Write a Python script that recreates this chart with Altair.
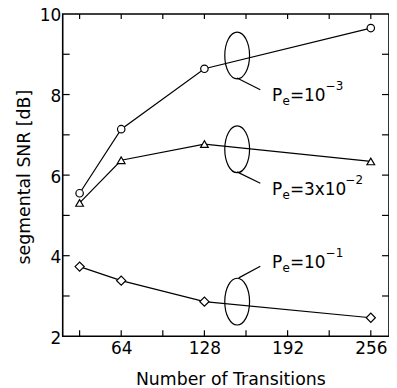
import altair as alt
import pandas as pd

# ---- data ----
transitions = [32, 64, 128, 256]
snr_pe_1e3 = [5.55, 7.14, 8.64, 9.65]
snr_pe_3e2 = [5.31, 6.37, 6.77, 6.34]
snr_pe_1e1 = [3.73, 3.38, 2.86, 2.46]

x_tick_values = [32, 64, 96, 128, 160, 192, 224, 256]
x_label_values = [64, 128, 192, 256]
y_tick_values = [3, 4, 5, 6, 7, 8, 9]
y_label_values = [2, 4, 6, 8, 10]

# annotation (ellipse / leader / label) positions in data units
ell_x = [153.2, 153.2, 153.2]
ell_y = [8.97, 6.64, 2.86]
lead_x1 = [153.1, 153.1, 154.4]
lead_x2 = [171.0, 171.0, 171.0]
lead_y1 = [8.41, 6.08, 3.45]
lead_y2 = [8.12, 5.80, 3.74]
lab_x = [180.0, 180.0, 180.0]
lab_y = [7.83, 5.50, 3.69]
lab_main = ["=10", "=3x10", "=10"]
lab_sup = ["\u22123", "\u22122", "\u22121"]
lab_sup_dx = [54, 74, 54]

FONT = "DejaVu Sans"
W, H = 328, 324

xs = alt.Scale(domain=[19, 270], nice=False, zero=False)
ys = alt.Scale(domain=[2, 10], nice=False, zero=False)

xaxis = alt.Axis(values=x_label_values, format="d", ticks=False, domain=False, grid=False,
                 labelFont=FONT, labelFontSize=17, labelColor="black", labelPadding=4,
                 title="Number of Transitions", titleFont=FONT, titleFontSize=17.4,
                 titleFontWeight="normal", titleColor="black", titleX=168.5, titleY=48,
                 titleAlign="center", titleBaseline="alphabetic")
yaxis = alt.Axis(values=y_label_values, format="d", ticks=False, domain=False, grid=False,
                 labelFont=FONT, labelFontSize=17, labelColor="black", labelPadding=2,
                 labelOffset=2,
                 title="segmental SNR [dB]", titleFont=FONT, titleFontSize=17.4,
                 titleFontWeight="normal", titleColor="black", titleX=-33, titleY=163.5,
                 titleAngle=270, titleAlign="center", titleBaseline="alphabetic")

X = alt.X("x:Q", scale=xs, axis=xaxis)
Y = alt.Y("y:Q", scale=ys, axis=yaxis)

layers = []

# inward ticks
xt = pd.DataFrame({"x": x_tick_values})
yt = pd.DataFrame({"y": y_tick_values})
tick_style = dict(color="black", strokeWidth=1.2)
layers.append(alt.Chart(xt).mark_rule(**tick_style).encode(x=X, y=alt.value(H), y2=alt.value(H - 6)))
layers.append(alt.Chart(xt).mark_rule(**tick_style).encode(x=X, y=alt.value(0), y2=alt.value(5)))
layers.append(alt.Chart(yt).mark_rule(**tick_style).encode(y=Y, x=alt.value(0), x2=alt.value(7)))
layers.append(alt.Chart(yt).mark_rule(**tick_style).encode(y=Y, x=alt.value(W), x2=alt.value(W - 7)))

# series
for vals, shape, size in [(snr_pe_1e3, "circle", 56), (snr_pe_3e2, "triangle-up", 60),
                          (snr_pe_1e1, "diamond", 85)]:
    df = pd.DataFrame({"x": transitions, "y": vals})
    layers.append(alt.Chart(df).mark_line(color="black", strokeWidth=1.2).encode(x=X, y=Y))
    layers.append(alt.Chart(df).mark_point(shape=shape, size=size, filled=True, fill="white",
                                           stroke="black", strokeWidth=1.2, opacity=1)
                  .encode(x=X, y=Y))

# ellipses
ellipse_path = ("M 0 -1 C 0.293 -1 0.53 -0.552 0.53 0 C 0.53 0.552 0.293 1 0 1 "
                "C -0.293 1 -0.53 0.552 -0.53 0 C -0.53 -0.552 -0.293 -1 0 -1 Z")
ell = pd.DataFrame({"x": ell_x, "y": ell_y})
layers.append(alt.Chart(ell).mark_point(shape=ellipse_path, size=2209, filled=False,
                                        stroke="black", strokeWidth=1.2, opacity=1)
              .encode(x=X, y=Y))

# leader lines
lead = pd.DataFrame({"x": lead_x1, "x2": lead_x2, "y": lead_y1, "y2": lead_y2})
layers.append(alt.Chart(lead).mark_rule(color="black", strokeWidth=1.2)
              .encode(x=X, x2="x2:Q", y=Y, y2="y2:Q"))

# labels  P_e = ... ^sup
lab = pd.DataFrame({"x": lab_x, "y": lab_y, "main": lab_main, "sup": lab_sup,
                    "P": ["P"] * 3, "e": ["e"] * 3})
txt = dict(align="left", baseline="alphabetic", font=FONT, color="black")
layers.append(alt.Chart(lab).mark_text(fontSize=17, **txt).encode(x=X, y=Y, text="P:N"))
layers.append(alt.Chart(lab).mark_text(fontSize=12, dx=10.5, dy=4, **txt).encode(x=X, y=Y, text="e:N"))
layers.append(alt.Chart(lab).mark_text(fontSize=17, dx=18, **txt).encode(x=X, y=Y, text="main:N"))
for i in range(3):
    layers.append(alt.Chart(lab.iloc[[i]]).mark_text(fontSize=12, dx=lab_sup_dx[i], dy=-11, **txt)
                  .encode(x=X, y=Y, text="sup:N"))

chart = alt.layer(*layers).properties(
    width=W, height=H,
    autosize=alt.AutoSizeParams(type="none"),
    padding={"left": 55, "top": 5, "right": 0, "bottom": 51},
    background="white",
).configure_view(stroke="black", strokeWidth=1.6)

chart.save("out.html", embed_options={"renderer": "svg", "actions": False})
